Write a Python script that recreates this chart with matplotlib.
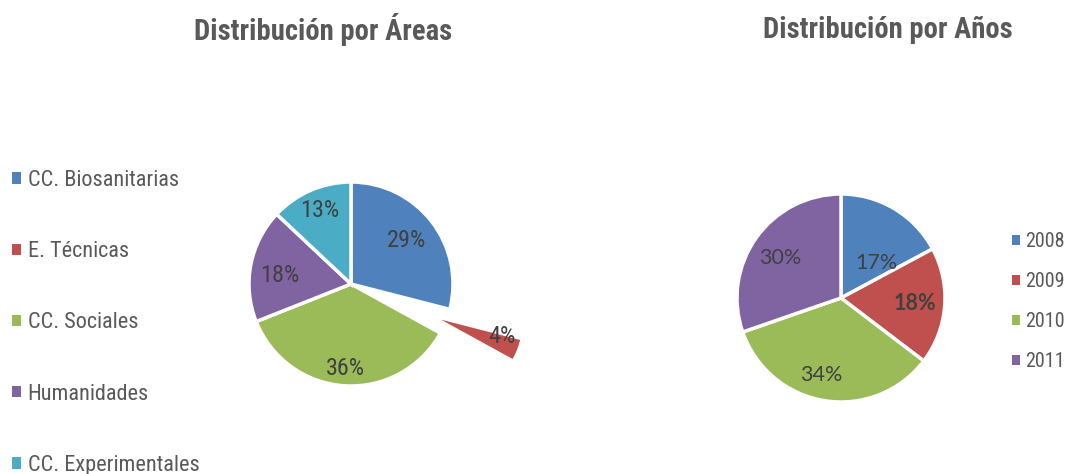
import matplotlib
matplotlib.use("Agg")
import matplotlib.pyplot as plt
from matplotlib.patches import Patch
from matplotlib import font_manager as fm
import numpy as np

# ---- data ----
area_labels = ["CC. Biosanitarias", "E. Técnicas", "CC. Sociales", "Humanidades", "CC. Experimentales"]
area_values = [29, 4, 36, 18, 13]
year_labels = ["2008", "2009", "2010", "2011"]
year_values = [17, 18, 34, 30]

title_left = "Distribución por Áreas"
title_right = "Distribución por Años"

colors_area = ["#4F81BD", "#C0504D", "#9BBB59", "#8064A2", "#4BACC6"]
colors_year = ["#4F81BD", "#C0504D", "#9BBB59", "#8064A2"]

# ---- font selection: prefer a narrow sans ----
names = {f.name for f in fm.fontManager.ttflist}
narrow = None
for cand in ["Liberation Sans Narrow", "Arial Narrow", "Roboto Condensed", "Open Sans Condensed",
             "DejaVu Sans Condensed"]:
    if cand in names:
        narrow = cand
        break
if narrow is not None:
    NARROW = [narrow, "DejaVu Sans"]
    S = 1.0
else:
    NARROW = ["Liberation Sans", "DejaVu Sans"]
    S = 0.9
CAL = ["Lato", "DejaVu Sans"]
TXT = "#404040"
TIT = "#595959"

W, H = 1067, 474
fig = plt.figure(figsize=(W / 100, H / 100), dpi=100)


def px_axes(cx, cy_top, w, h):
    return fig.add_axes([(cx - w / 2) / W, (H - cy_top - h / 2) / H, w / W, h / H])


# ---- left pie ----
r1 = 102
axL = px_axes(351, 284, 520, 360)
explode = [0.0, 0.95, 0.0, 0.0, 0.0]
wedgesL, _ = axL.pie(area_values, colors=colors_area, startangle=90, counterclock=False,
                     explode=explode, radius=1.0,
                     wedgeprops=dict(edgecolor="white", linewidth=2.5))
wedgesL[1].set_radius(0.8)
wedgesL[1].set_linewidth(0)
axL.set_xlim(-260 / r1, 260 / r1)
axL.set_ylim(-180 / r1, 180 / r1)
axL.set_aspect("equal")
axL.axis("off")
ldist = [0.69, 1.57, 0.83, 0.70, 0.78]
lshift = [0, 2.3, 0, 3.6, 0]
cum = 0
tot = sum(area_values)
for i, v in enumerate(area_values):
    mid = 90 - 360 * (cum + v / 2) / tot + lshift[i]
    cum += v
    a = np.deg2rad(mid)
    axL.text(ldist[i] * np.cos(a), ldist[i] * np.sin(a), f"{round(100 * v / tot)}%",
             ha="center", va="center", fontsize=17.5 * S, color=TXT, family=NARROW)

# ---- right pie ----
r2 = 104
axR = px_axes(841, 298, 300, 330)
wedgesR, _ = axR.pie(year_values, colors=colors_year, startangle=90, counterclock=False,
                     radius=1.0, wedgeprops=dict(edgecolor="white", linewidth=2.5))
axR.set_xlim(-150 / r2, 150 / r2)
axR.set_ylim(-165 / r2, 165 / r2)
axR.set_aspect("equal")
axR.axis("off")
rdist = [0.48, 0.71, 0.76, 0.70]
rshift = [-15, 0, -5, 2]
bold = [False, True, False, False]
cum = 0
tot = sum(year_values)
for i, v in enumerate(year_values):
    mid = 90 - 360 * (cum + v / 2) / tot + rshift[i]
    cum += v
    a = np.deg2rad(mid)
    axR.text(rdist[i] * np.cos(a), rdist[i] * np.sin(a), f"{round(100 * v / tot)}%",
             ha="center", va="center", fontsize=15.5, color=TXT, family=CAL,
             fontweight="bold" if bold[i] else "normal")

# ---- titles ----
fig.text(323 / W, 1 - 30 / H, title_left, ha="center", va="center", fontsize=20.6 * S,
         fontweight="bold", color=TIT, family=NARROW)
fig.text(888 / W, 1 - 30 / H, title_right, ha="center", va="center", fontsize=20.6 * S,
         fontweight="bold", color=TIT, family=NARROW)

# ---- legends ----
fsL = 16 * S
hL = [Patch(facecolor=c, edgecolor="none") for c in colors_area]
legL = fig.legend(hL, area_labels, loc="upper left", bbox_to_anchor=(12 / W, 1 - 170 / H),
                  frameon=False, labelspacing=2.26, handlelength=0.4, handleheight=0.4,
                  handletextpad=0.3, borderaxespad=0, borderpad=0,
                  prop=dict(family=NARROW, size=fsL))
for t in legL.get_texts():
    t.set_color(TIT)

fsR = 14.5 * S
hR = [Patch(facecolor=c, edgecolor="none") for c in colors_year]
legR = fig.legend(hR, year_labels, loc="upper left", bbox_to_anchor=(1012 / W, 1 - 232 / H),
                  frameon=False, labelspacing=1.05, handlelength=0.4, handleheight=0.4,
                  handletextpad=0.25, borderaxespad=0, borderpad=0,
                  prop=dict(family=NARROW, size=fsR))
for t in legR.get_texts():
    t.set_color(TIT)

fig.savefig("out.png", dpi=100)
